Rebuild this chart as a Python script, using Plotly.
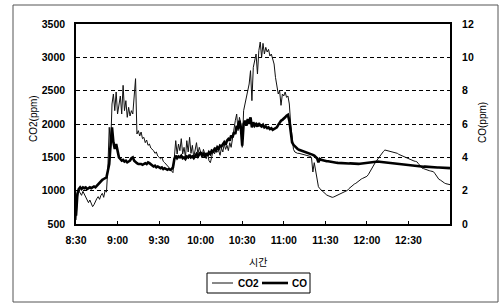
import plotly.graph_objects as go
import pandas as pd

# ---- data (one reading per minute starting 8:30) ----
start_time = "2000-01-01 08:30"
end_time = "2000-01-01 13:00"

co2_ppm = [
    560, 900, 1000, 960, 930, 990, 950, 900, 870, 820,
    860, 800, 760, 790, 840, 880, 910, 870, 930, 960,
    900, 1000, 980, 1350, 1950, 1650, 2300, 2450, 2200, 2480,
    2150, 2300, 2420, 2150, 2580, 2200, 2350, 2100, 2250, 2120,
    2200, 2150, 2400, 2680, 1850, 1900, 1820, 1880, 1780, 1800,
    1720, 1760, 1680, 1700, 1640, 1620, 1600, 1560, 1580, 1520,
    1500, 1480, 1500, 1440, 1420, 1400, 1380, 1350, 1320, 1300,
    1270, 1500, 1750, 1550, 1700, 1600, 1780, 1550, 1650, 1500,
    1750, 1580, 1800, 1560, 1680, 1500, 1620, 1720, 1550, 1650,
    1580, 1520, 1620, 1550, 1480, 1560, 1450, 1420, 1520, 1600,
    1550, 1650, 1580, 1600, 1530, 1640, 1580, 1700, 1620, 1680,
    1600, 1720, 1650, 1800, 1950, 2050, 2150, 1900, 2100, 2000,
    1650, 2200, 2300, 2400, 2500, 2600, 2800, 2350, 2850, 2950,
    3050, 2750, 3100, 3230, 3000, 3210, 3050, 3150, 3080, 3120,
    3020, 3050, 2950, 2900, 2700, 2550, 2450, 2500, 2280, 2450,
    2420, 2480, 2400, 2420, 2300, 2000, 1750, 1620, 1580, 1565,
    1560, 1560, 1555, 1550, 1545, 1540, 1530, 1525, 1520, 1515,
    1500, 1280, 1420, 1300, 1150, 1060, 1030, 1010, 980, 960,
    945, 935, 925, 915, 905, 900, 905, 915, 925, 930,
    935, 945, 955, 965, 975, 985, 1005, 1030, 1050, 1070,
    1090, 1100, 1110, 1130, 1150, 1160, 1175, 1185, 1195, 1205,
    1215, 1240, 1280, 1320, 1350, 1390, 1420, 1450, 1480, 1510,
    1540, 1570, 1590, 1610, 1605, 1595, 1590, 1580, 1585, 1575,
    1570, 1565, 1560, 1545, 1535, 1525, 1515, 1505, 1495, 1490,
    1480, 1470, 1465, 1455, 1445, 1440, 1435, 1410, 1380, 1350,
    1335, 1330, 1320, 1315, 1305, 1300, 1295, 1290, 1285, 1260,
    1230, 1200, 1170, 1160, 1140, 1125, 1115, 1105, 1100, 1095,
    1090,
]

co_ppm = [
    0.5, 1.8, 2.1, 2.2, 2.1, 2.2, 2.15, 2.2, 2.1, 2.15,
    2.2, 2.15, 2.2, 2.25, 2.2, 2.3, 2.35, 2.5, 2.6, 2.65,
    2.7, 2.75, 2.8, 3.2, 3.6, 4.8, 5.8, 4.9, 4.5, 4.8,
    4.3, 4.0, 3.9, 3.8, 3.85, 3.75, 3.8, 3.7, 3.75, 3.8,
    3.95, 4.0, 3.8, 3.7, 3.65, 3.6, 3.62, 3.6, 3.55, 3.6,
    3.65, 3.6, 3.7, 3.65, 3.6, 3.5, 3.45, 3.5, 3.4, 3.45,
    3.4, 3.35, 3.4, 3.3, 3.35, 3.3, 3.25, 3.3, 3.25, 3.3,
    3.4, 3.9, 4.1, 3.95, 4.05, 4.0, 4.1, 3.95, 4.0, 3.9,
    4.05, 4.0, 4.15, 4.0, 4.05, 3.95, 4.1, 4.2, 4.05, 4.15,
    4.3, 4.1, 4.2, 4.05, 4.25, 4.1, 4.3, 4.2, 4.4, 4.35,
    4.5, 4.4, 4.6, 4.5, 4.7, 4.65, 4.8, 4.9, 4.75, 5.0,
    5.1, 5.0, 5.3, 5.2, 5.5, 5.4, 5.9, 5.7, 6.2, 5.8,
    4.7, 6.0, 6.2, 5.9, 6.3, 6.0, 6.4, 5.8, 6.1, 5.9,
    6.0, 5.85, 6.05, 5.9, 5.85, 5.95, 5.8, 5.85, 5.75, 5.8,
    5.7, 5.75, 5.65, 5.7, 5.75, 5.8, 5.95, 6.1, 6.2, 6.25,
    6.3, 6.4, 6.5, 6.55, 6.2, 5.5, 4.9, 4.75, 4.65, 4.55,
    4.5, 4.45, 4.42, 4.4, 4.38, 4.35, 4.32, 4.3, 4.27, 4.24,
    4.2, 4.15, 4.1, 4.05, 3.95, 3.7, 3.9, 3.85, 3.82, 3.8,
    3.78, 3.77, 3.76, 3.74, 3.72, 3.7, 3.7, 3.69, 3.68, 3.67,
    3.66, 3.66, 3.65, 3.65, 3.64, 3.64, 3.63, 3.63, 3.64, 3.63,
    3.62, 3.62, 3.63, 3.62, 3.61, 3.62, 3.63, 3.64, 3.65, 3.66,
    3.68, 3.7, 3.72, 3.73, 3.74, 3.75, 3.76, 3.76, 3.75, 3.74,
    3.73, 3.72, 3.7, 3.68, 3.66, 3.65, 3.64, 3.63, 3.62, 3.61,
    3.6, 3.6, 3.59, 3.58, 3.57, 3.56, 3.56, 3.55, 3.54, 3.53,
    3.52, 3.51, 3.5, 3.5, 3.49, 3.48, 3.48, 3.47, 3.46, 3.45,
    3.45, 3.44, 3.44, 3.43, 3.43, 3.42, 3.42, 3.41, 3.41, 3.4,
    3.4, 3.39, 3.39, 3.38, 3.38, 3.37, 3.37, 3.36, 3.36, 3.35,
    3.35,
]

tick_labels = ["8:30", "9:00", "9:30", "10:00", "10:30", "11:00", "11:30", "12:00", "12:30"]
series_names = ["CO2", "CO"]
x_title = "시간"
y_title = "CO2(ppm)"
y2_title = "CO(ppm)"

times = pd.date_range(start_time, periods=len(co2_ppm), freq="min")
tick_times = pd.date_range(start_time, periods=len(tick_labels), freq="30min")

# ---- geometry helpers (pixel -> paper) ----
W, H = 501, 304
L, R, T, B = 76, 450, 24, 224


def px(x):
    return (x - L) / (R - L)


def py(y):
    return (B - y) / (B - T)


FONT = "Liberation Sans, Arial, Noto Sans CJK KR, sans-serif"

fig = go.Figure()
fig.add_trace(go.Scatter(x=times, y=co2_ppm, name=series_names[0], mode="lines",
                         line=dict(color="#111111", width=1), yaxis="y"))
fig.add_trace(go.Scatter(x=times, y=co_ppm, name=series_names[1], mode="lines",
                         line=dict(color="#000000", width=2.6), yaxis="y2"))

fig.update_layout(
    width=W, height=H,
    margin=dict(l=L, r=W - R, t=T, b=H - B, pad=0),
    paper_bgcolor="white", plot_bgcolor="white",
    showlegend=False,
    font=dict(family=FONT, size=11, color="black"),
    xaxis=dict(
        type="date",
        range=[start_time, end_time],
        tickvals=list(tick_times), ticktext=tick_labels,
        showgrid=False, zeroline=False,
        showline=True, linecolor="black", linewidth=1.5, mirror=True,
        ticks="inside", ticklen=3, tickcolor="black",
        tickfont=dict(size=10.5, weight="bold"),
        ticklabelstandoff=6,
    ),
    yaxis=dict(
        range=[500, 3500], dtick=500, tick0=500,
        showgrid=True, gridcolor="black", gridwidth=1, griddash="4px,3px",
        zeroline=False,
        showline=True, linecolor="black", linewidth=1.5, mirror=True,
        ticks="", tickfont=dict(size=10.5, weight="bold"),
        ticklabelstandoff=7,
    ),
    yaxis2=dict(
        range=[0, 12], dtick=2, tick0=0,
        overlaying="y", side="right",
        showgrid=False, zeroline=False,
        showline=True, linecolor="black", linewidth=2,
        ticks="", tickfont=dict(size=10.5, weight="bold"),
        ticklabelstandoff=8,
    ),
)

shapes = []
annotations = []

# outer chart border
shapes.append(dict(type="rect", xref="paper", yref="paper",
                   x0=px(13), x1=px(498), y0=py(302), y1=py(5),
                   line=dict(color="#555555", width=1), fillcolor="rgba(0,0,0,0)", layer="below"))

# axis titles
annotations.append(dict(text=y_title, xref="paper", yref="paper", x=px(33), y=py(119),
                        showarrow=False, textangle=-90, font=dict(size=10),
                        xanchor="center", yanchor="middle"))
annotations.append(dict(text=y2_title, xref="paper", yref="paper", x=px(482), y=py(122),
                        showarrow=False, textangle=-90, font=dict(size=10),
                        xanchor="center", yanchor="middle"))
annotations.append(dict(text=x_title, xref="paper", yref="paper", x=px(258), y=py(262),
                        showarrow=False, font=dict(size=10),
                        xanchor="center", yanchor="middle"))

# legend (drawn to match the compact original)
shapes.append(dict(type="rect", xref="paper", yref="paper",
                   x0=px(207), x1=px(310), y0=py(293), y1=py(273),
                   line=dict(color="black", width=1), fillcolor="white"))
shapes.append(dict(type="line", xref="paper", yref="paper",
                   x0=px(212), x1=px(233), y0=py(283), y1=py(283),
                   line=dict(color="#111111", width=1)))
shapes.append(dict(type="line", xref="paper", yref="paper",
                   x0=px(262), x1=px(288), y0=py(283), y1=py(283),
                   line=dict(color="black", width=2.6)))
annotations.append(dict(text=series_names[0], xref="paper", yref="paper", x=px(236), y=py(283),
                        showarrow=False, font=dict(size=10, weight="bold"),
                        xanchor="left", yanchor="middle"))
annotations.append(dict(text=series_names[1], xref="paper", yref="paper", x=px(290), y=py(283),
                        showarrow=False, font=dict(size=10, weight="bold"),
                        xanchor="left", yanchor="middle"))

fig.update_layout(shapes=shapes, annotations=annotations)

fig.write_html("out.html",
               config={"displayModeBar": False},
               post_script="document.body.style.margin='0';document.body.style.padding='0';")
